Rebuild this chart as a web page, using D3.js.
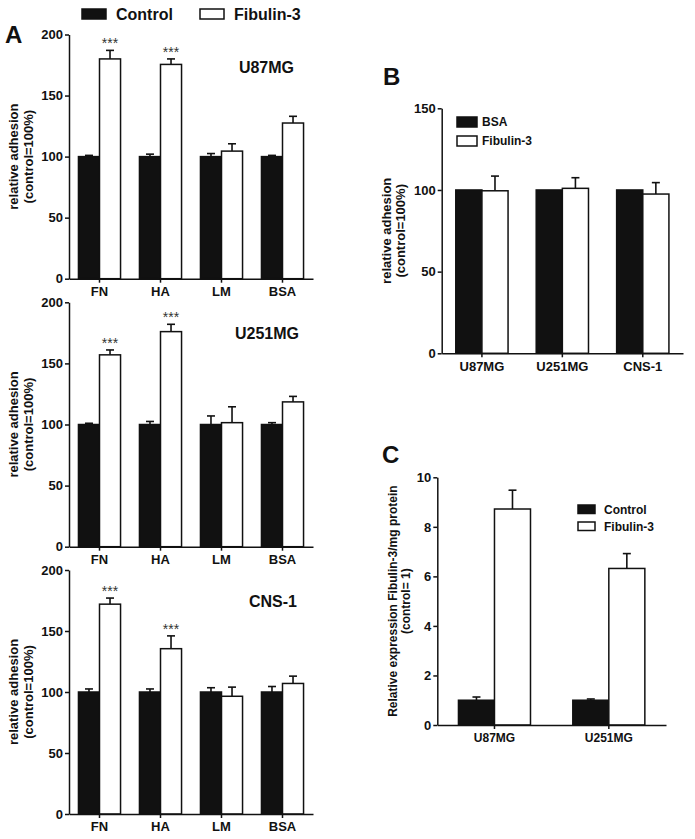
<!DOCTYPE html>
<html>
<head>
<meta charset="utf-8">
<script src="https://cdn.jsdelivr.net/npm/d3@7"></script>
<style>
  body { margin: 0; background: #fff; }
  text { font-family: "Liberation Sans", Arial, sans-serif; fill: #111; }
  .axis path, .axis line { stroke: #111; stroke-width: 1.5; }
  .axis text { font-size: 13px; font-weight: bold; }
</style>
</head>
<body>
<div id="chart"></div>
<script>
// DATA
var substrates = ["FN", "HA", "LM", "BSA"];

var u87Control = [100, 100, 100, 100];
var u87ControlErr = [1, 2, 2.5, 1];
var u87Fibulin = [180, 175.5, 104.5, 127.5];
var u87FibulinErr = [7, 4.5, 6, 5.5];
var u87Sig = ["***", "***", "", ""];

var u251Control = [100, 100, 100, 100];
var u251ControlErr = [1, 2.5, 7, 1.5];
var u251Fibulin = [157, 176, 101.5, 118.5];
var u251FibulinErr = [4, 6, 13, 4.5];
var u251Sig = ["***", "***", "", ""];

var cnsControl = [100, 100, 100, 100];
var cnsControlErr = [2.5, 2.5, 3.5, 4.5];
var cnsFibulin = [172, 135.5, 96.5, 107];
var cnsFibulinErr = [5, 10.5, 7.5, 6];
var cnsSig = ["***", "***", "", ""];

var cellLinesB = ["U87MG", "U251MG", "CNS-1"];
var bsaB = [100, 100, 100];
var bsaBErr = [0, 0, 0];
var fibulinB = [99.5, 101, 97.5];
var fibulinBErr = [9, 6.5, 7];

var cellLinesC = ["U87MG", "U251MG"];
var controlC = [1, 1];
var controlCErr = [0.13, 0.05];
var fibulinC = [8.72, 6.32];
var fibulinCErr = [0.76, 0.6];

var adhesionTicks = [0, 50, 100, 150, 200];
var adhesionTicksB = [0, 50, 100, 150];
var expressionTicks = [0, 2, 4, 6, 8, 10];

var svg = d3.select("#chart").append("svg")
  .attr("width", 695)
  .attr("height", 839);

// draws one grouped bar panel (dark bar + white bar per category)
function drawPanel(p) {
  var x = d3.scaleBand()
    .domain(p.cats)
    .range([p.x0, p.x1])
    .paddingInner(p.pad)
    .paddingOuter(p.pad / 2);

  var y = d3.scaleLinear()
    .domain([0, p.yMax])
    .range([p.y0, p.yTop]);

  var g = svg.append("g");
  var bw = x.bandwidth() / 2;

  var rows = p.cats.map(function(c, i) {
    return {cat: c, a: p.a[i], aErr: p.aErr[i], b: p.b[i], bErr: p.bErr[i], sig: p.sig ? p.sig[i] : ""};
  });

  // error bars (upward only)
  function errBar(sel, key, errKey, offset) {
    sel.append("line")
      .attr("x1", d => x(d.cat) + offset + bw / 2)
      .attr("x2", d => x(d.cat) + offset + bw / 2)
      .attr("y1", d => y(d[key]))
      .attr("y2", d => y(d[key] + d[errKey]))
      .attr("stroke", "#111")
      .attr("stroke-width", 1.6);
    sel.append("line")
      .attr("x1", d => x(d.cat) + offset + bw / 2 - 4)
      .attr("x2", d => x(d.cat) + offset + bw / 2 + 4)
      .attr("y1", d => y(d[key] + d[errKey]))
      .attr("y2", d => y(d[key] + d[errKey]))
      .attr("stroke", "#111")
      .attr("stroke-width", 1.6);
  }

  var grp = g.selectAll(".grp")
    .data(rows)
    .enter()
    .append("g");

  errBar(grp.filter(d => d.aErr > 0), "a", "aErr", 0);
  errBar(grp, "b", "bErr", bw);

  grp.append("rect")
    .attr("x", d => x(d.cat))
    .attr("y", d => y(d.a))
    .attr("width", bw)
    .attr("height", d => p.y0 - y(d.a))
    .attr("fill", "#111")
    .attr("stroke", "#111")
    .attr("stroke-width", 1.5);

  grp.append("rect")
    .attr("x", d => x(d.cat) + bw)
    .attr("y", d => y(d.b))
    .attr("width", bw)
    .attr("height", d => p.y0 - y(d.b))
    .attr("fill", "#fff")
    .attr("stroke", "#111")
    .attr("stroke-width", 1.5);

  grp.append("text")
    .attr("x", d => x(d.cat) + bw * 1.5)
    .attr("y", d => y(d.b + d.bErr) - 2)
    .attr("text-anchor", "middle")
    .style("font-size", "14px")
    .style("fill", "#333")
    .text(d => d.sig);

  g.append("g")
    .attr("class", "axis")
    .attr("transform", `translate(0, ${p.y0})`)
    .call(d3.axisBottom(x).tickSize(4).tickSizeOuter(0).tickPadding(4))
    .selectAll("text")
    .style("font-size", p.xFont + "px");

  g.append("g")
    .attr("class", "axis")
    .attr("transform", `translate(${p.x0}, 0)`)
    .call(d3.axisLeft(y).tickValues(p.ticks).tickSize(4).tickSizeOuter(0).tickPadding(2));

  // y label, two lines
  var lab = g.append("text")
    .attr("transform", `translate(${p.labX}, ${(p.y0 + p.yTop) / 2}) rotate(-90)`)
    .attr("text-anchor", "middle")
    .style("font-size", p.labFont + "px")
    .style("font-weight", "bold");
  lab.append("tspan").attr("x", 0).attr("dy", 0).text(p.label[0]);
  lab.append("tspan").attr("x", 0).attr("dy", p.labGap).text(p.label[1]);

  if (p.title) {
    g.append("text")
      .attr("x", p.titleX)
      .attr("y", p.titleY)
      .attr("text-anchor", "end")
      .style("font-size", "16px")
      .style("font-weight", "bold")
      .text(p.title);
  }
}

var adhLabel = ["relative adhesion", "(control=100%)"];

drawPanel({cats: substrates, x0: 69, x1: 313, pad: 0.31, y0: 278.7, yTop: 34.5, yMax: 200,
  a: u87Control, aErr: u87ControlErr, b: u87Fibulin, bErr: u87FibulinErr, sig: u87Sig,
  ticks: adhesionTicks, label: adhLabel, labX: 18, labGap: 15, labFont: 13, xFont: 13,
  title: "U87MG", titleX: 294, titleY: 73});

drawPanel({cats: substrates, x0: 69, x1: 313, pad: 0.31, y0: 546.7, yTop: 302.3, yMax: 200,
  a: u251Control, aErr: u251ControlErr, b: u251Fibulin, bErr: u251FibulinErr, sig: u251Sig,
  ticks: adhesionTicks, label: adhLabel, labX: 18, labGap: 15, labFont: 13, xFont: 13,
  title: "U251MG", titleX: 299, titleY: 339});

drawPanel({cats: substrates, x0: 69, x1: 313, pad: 0.31, y0: 814, yTop: 570, yMax: 200,
  a: cnsControl, aErr: cnsControlErr, b: cnsFibulin, bErr: cnsFibulinErr, sig: cnsSig,
  ticks: adhesionTicks, label: adhLabel, labX: 18, labGap: 15, labFont: 13, xFont: 13,
  title: "CNS-1", titleX: 297, titleY: 607});

drawPanel({cats: cellLinesB, x0: 441.7, x1: 683, pad: 0.35, y0: 353.3, yTop: 108.3, yMax: 150,
  a: bsaB, aErr: bsaBErr, b: fibulinB, bErr: fibulinBErr,
  ticks: adhesionTicksB, label: adhLabel, labX: 391, labGap: 14, labFont: 13, xFont: 13});

drawPanel({cats: cellLinesC, x0: 437.3, x1: 666, pad: 0.37, y0: 725, yTop: 477.3, yMax: 10,
  a: controlC, aErr: controlCErr, b: fibulinC, bErr: fibulinCErr,
  ticks: expressionTicks, label: ["Relative expression Fibulin-3/mg protein", "(control= 1)"],
  labX: 397, labGap: 13, labFont: 12, xFont: 12});

// LEGENDS
function legend(x, y, w, h, gap, names, size) {
  var lg = svg.append("g").attr("transform", `translate(${x}, ${y})`);
  names.forEach(function(n, i) {
    lg.append("rect")
      .attr("x", n.dx).attr("y", n.dy)
      .attr("width", w).attr("height", h)
      .attr("fill", i === 0 ? "#111" : "#fff")
      .attr("stroke", "#111").attr("stroke-width", 1.5);
    lg.append("text")
      .attr("x", n.dx + w + gap).attr("y", n.dy + h / 2)
      .attr("dy", "0.36em")
      .style("font-size", size + "px")
      .style("font-weight", "bold")
      .text(n.text);
  });
}

legend(82, 9, 24, 10, 10, [{text: "Control", dx: 0, dy: 0}, {text: "Fibulin-3", dx: 118, dy: 0}], 16);
legend(457, 117, 20, 10, 5, [{text: "BSA", dx: 0, dy: 0}, {text: "Fibulin-3", dx: 0, dy: 19}], 12);
legend(578, 505, 17, 8.5, 9, [{text: "Control", dx: 0, dy: 0}, {text: "Fibulin-3", dx: 0, dy: 17}], 12);

// PANEL LETTERS
[["A", 5, 43], ["B", 383, 85], ["C", 382, 463]].forEach(function(l) {
  svg.append("text")
    .attr("x", l[1]).attr("y", l[2])
    .style("font-size", "24px")
    .style("font-weight", "bold")
    .text(l[0]);
});
</script>
</body>
</html>
